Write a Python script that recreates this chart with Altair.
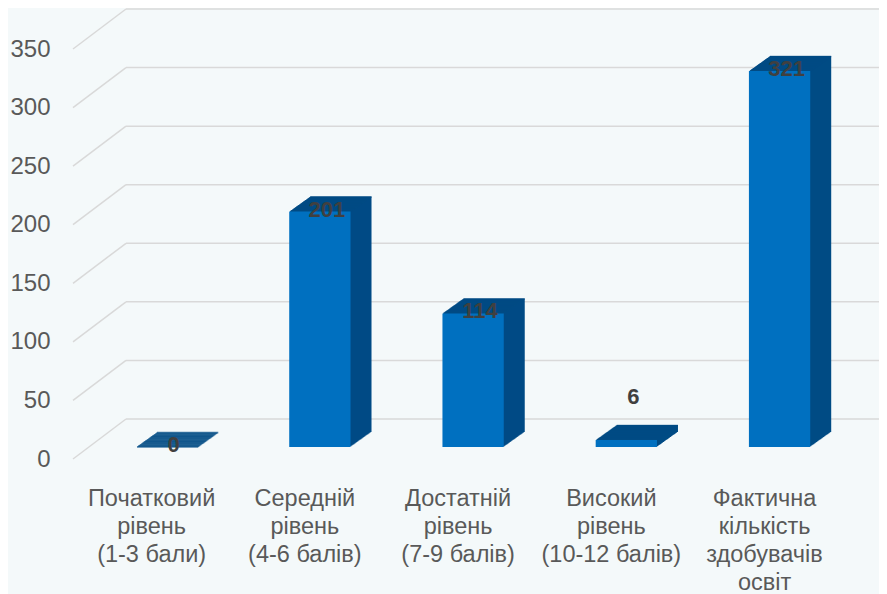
import altair as alt
import pandas as pd

# ---- data ----
categories = [
    "Початковий\nрівень\n(1-3 бали)",
    "Середній\nрівень\n(4-6 балів)",
    "Достатній\nрівень\n(7-9 балів)",
    "Високий\nрівень\n(10-12 балів)",
    "Фактична\nкількість\nздобувачів\nосвіт",
]
values = [0, 201, 114, 6, 321]
tick_values = [0, 50, 100, 150, 200, 250, 300, 350]

# ---- style ----
FRONT = "#0070c0"
SIDE = "#014b85"
GRID = "#d9d9d9"
BG = "#f4f9fa"
FONT = "Liberation Sans"

W, H = 806, 410
DEPTH_X, DEPTH_Y = 21, 15
FRONT_SHIFT = -12
WALL_SHIFT = -40
SLANT_X = 53
BAND_W = 61.3

bars = pd.DataFrame({"cat": categories, "value": values})
grid = pd.DataFrame({"v": tick_values})

yscale = alt.Scale(domain=[0, 350], nice=False, zero=True)
xscale = alt.Scale(domain=categories, paddingInner=0.6, paddingOuter=0.43, align=0.478)

yaxis = alt.Axis(values=tick_values, grid=False, domain=False, ticks=False,
                 labelFont=FONT, labelFontSize=24, labelColor="#595959",
                 labelPadding=23, title=None)
xaxis = alt.Axis(labelExpr="split(datum.value, '\\n')", domain=False, ticks=False,
                 grid=False, labelAngle=0, labelFont=FONT, labelFontSize=23.5,
                 labelColor="#595959", labelLineHeight=28, labelPadding=27,
                 labelOffset=-15, labelBaseline="top", title=None)

X = alt.X("cat:N", scale=xscale, sort=categories, axis=xaxis)
Y = alt.Y("value:Q", scale=yscale, axis=yaxis)

base_grid = alt.Chart(grid)
grid_slant = base_grid.mark_rule(color=GRID, strokeWidth=1.5, y2Offset=WALL_SHIFT).encode(
    x=alt.value(0), x2=alt.value(SLANT_X),
    y=alt.Y("v:Q", scale=yscale, axis=yaxis), y2="v:Q",
)
grid_wall = base_grid.mark_rule(color=GRID, strokeWidth=1.5, yOffset=WALL_SHIFT).encode(
    x=alt.value(SLANT_X), x2=alt.value(W),
    y=alt.Y("v:Q", scale=yscale, axis=yaxis),
)

layers = [grid_slant, grid_wall]
base = alt.Chart(bars)
# extruded depth: stacked, shifted copies (side face) + top-edge ticks (top face)
for k in range(DEPTH_X, 0, -1):
    dy = k * DEPTH_Y / DEPTH_X
    layers.append(
        base.mark_bar(color=SIDE, xOffset=k, yOffset=FRONT_SHIFT - dy,
                      y2Offset=FRONT_SHIFT - dy).encode(x=X, y=Y)
    )
    layers.append(
        base.mark_tick(color=SIDE, thickness=1.6, size=BAND_W, xOffset=k,
                       yOffset=FRONT_SHIFT - dy + 0.6).encode(x=X, y=Y)
    )
layers.append(base.mark_bar(color=FRONT, yOffset=FRONT_SHIFT, y2Offset=FRONT_SHIFT).encode(x=X, y=Y))

label_style = dict(font=FONT, fontSize=22, fontWeight="bold", color="#404040",
                   baseline="middle", align="center", dx=7)
labels_main = base.transform_filter("datum.value == 0 || datum.value >= 30").mark_text(
    yOffset=FRONT_SHIFT - 2, **label_style).encode(x=X, y=Y, text="value:Q")
labels_small = base.transform_filter("datum.value > 0 && datum.value < 30").mark_text(
    yOffset=FRONT_SHIFT - 43, **label_style).encode(x=X, y=Y, text="value:Q")
layers += [labels_main, labels_small]

chart = alt.layer(*layers).properties(
    width=W, height=H,
    padding={"left": 65, "top": 41, "right": 0, "bottom": 136},
    autosize=alt.AutoSizeParams(type="none"),
    background=BG,
).configure_view(stroke=None)

chart.save("out.html", embed_options={"renderer": "svg", "actions": False})
